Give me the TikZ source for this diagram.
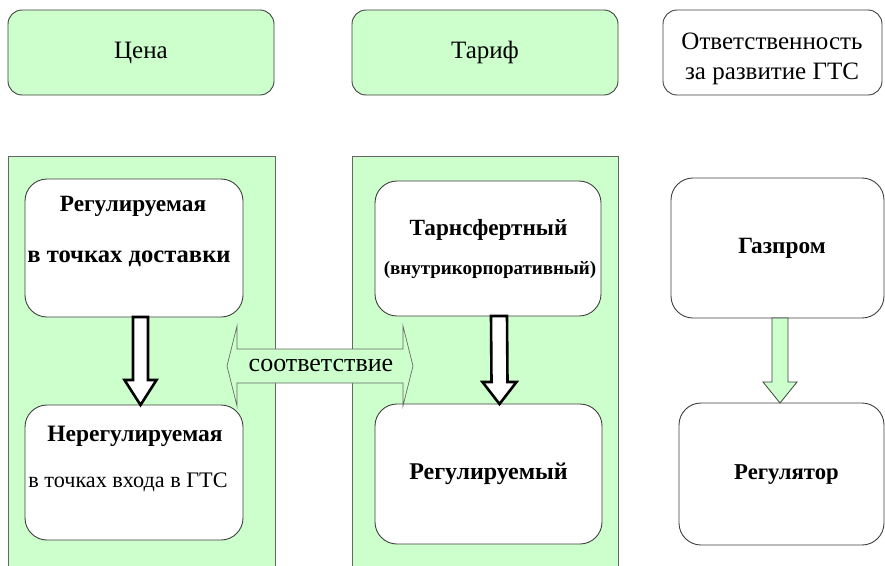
\documentclass[tikz,border=0pt]{standalone}
\usepackage{fontspec}
\setmainfont{Liberation Serif}
\usetikzlibrary{calc}
\definecolor{lgreen}{HTML}{CCFFCC}
\definecolor{edge}{HTML}{404040}
\begin{document}
\begin{tikzpicture}[x=1pt,y=-1pt,
  topbox/.style={draw=edge, line width=0.9pt, rounded corners=14pt, inner sep=0pt, outer sep=0pt},
  panel/.style={draw=edge!80, line width=0.7pt, fill=lgreen, inner sep=0pt, outer sep=0pt},
  inbox/.style={draw=edge, line width=0.9pt, fill=white, rounded corners=22pt, inner sep=0pt, outer sep=0pt},
  toptxt/.style={font=\fontsize{25}{30}\selectfont, align=center, inner sep=0pt},
  btxt/.style={font=\fontsize{#1}{26}\bfseries\selectfont, inner sep=0pt},
  rtxt/.style={font=\fontsize{#1}{25}\selectfont, inner sep=0pt},
  hollow/.style={draw=black, line width=2.6pt, fill=white, line join=miter},
  garrow/.style={draw=edge, line width=0.8pt, fill=lgreen, line join=miter}]
\useasboundingbox (0,0) rectangle (885,565);
% top row
\node[topbox, fill=lgreen, minimum width=266pt, minimum height=85pt] (cena) at (141,52.5) {};
\node[topbox, fill=lgreen, minimum width=266pt, minimum height=85pt] (tarif) at (485,52.5) {};
\node[topbox, fill=white, minimum width=219pt, minimum height=85pt] (otv) at (772.5,52.5) {};
\node[toptxt] (cenat) at (cena.center) {Цена};
\node[toptxt] (tariftt) at (tarif.center) {Тариф};
\node[toptxt] (otvt) at (772,59) {Ответственность\\за развитие ГТС};
% panels
\node[panel, minimum width=267pt, minimum height=412pt, anchor=north west] (pl) at (8,156) {};
\node[panel, minimum width=266pt, minimum height=412pt, anchor=north west] (pm) at (352,156) {};
% inner boxes
\node[inbox, minimum width=218pt, minimum height=138pt] (reg1) at (134,248) {};
\node[inbox, minimum width=218pt, minimum height=135pt] (nereg) at (134,472.5) {};
\node[inbox, minimum width=226pt, minimum height=135pt] (trans) at (488,248.5) {};
\node[inbox, minimum width=227pt, minimum height=140pt] (regy) at (488.5,474) {};
\node[inbox, minimum width=213pt, minimum height=140pt] (gaz) at (777.5,248) {};
\node[inbox, minimum width=205pt, minimum height=142pt] (regul) at (781.5,474) {};
% texts
\node[btxt=23.3] (t1a) at (133,206) {Регулируемая};
\node[btxt=24.6] (t1b) at (129,259) {в точках доставки};
\node[btxt=23.5] (t2a) at (135,436) {Нерегулируемая};
\node[rtxt=22.2] (t2b) at (128,482) {в точках входа в ГТС};
\node[btxt=23.2] (t3a) at (488.5,230) {Тарнсфертный};
\node[btxt=19] (t3b) at (490,270) {(внутрикорпоративный)};
\node[btxt=24] (t4) at (488.5,474) {Регулируемый};
\node[btxt=23.3] (t5) at (782,248) {Газпром};
\node[btxt=22.7] (t6) at (786.5,475) {Регулятор};
% hollow arrows
\coordinate (a1) at ($(reg1.south)+(6.5,0)$);
\coordinate (a1t) at ($(nereg.north)+(6.5,0)$);
\draw[hollow] ($(a1)+(-7.5,0)$) -- ($(a1t)+(-7.5,-25)$) -- ($(a1t)+(-16,-25)$) -- (a1t)
  -- ($(a1t)+(16,-25)$) -- ($(a1t)+(7.5,-25)$) -- ($(a1)+(7.5,0)$) -- cycle;
\coordinate (a2) at ($(trans.south)+(11,0)$);
\coordinate (a2t) at ($(regy.north)+(11,0)$);
\draw[hollow] ($(a2)+(-8,0)$) -- ($(a2t)+(-8,-22)$) -- ($(a2t)+(-17,-22)$) -- (a2t)
  -- ($(a2t)+(17,-22)$) -- ($(a2t)+(8,-22)$) -- ($(a2)+(8,0)$) -- cycle;
% green arrow
\coordinate (a3) at ($(gaz.south)+(2.5,0)$);
\coordinate (a3t) at ($(regul.north)+(-1.5,0)$);
\draw[garrow] ($(a3)+(-8,0)$) -- ($(a3t)+(-8,-21)$) -- ($(a3t)+(-17,-21)$) -- (a3t)
  -- ($(a3t)+(17,-21)$) -- ($(a3t)+(8,-21)$) -- ($(a3)+(8,0)$) -- cycle;
% double arrow
\coordinate (dl) at (227,366);
\coordinate (dr) at (413,366);
\draw[garrow, draw=edge!80, line width=0.7pt] (dl) -- ($(dl)+(10,-40)$) -- ($(dl)+(10,-17)$) -- ($(dr)+(-10,-17)$)
  -- ($(dr)+(-10,-40)$) -- (dr) -- ($(dr)+(-10,40)$) -- ($(dr)+(-10,17)$)
  -- ($(dl)+(10,17)$) -- ($(dl)+(10,40)$) -- cycle;
\node[rtxt=26] (corr) at (321,365) {соответствие};
\end{tikzpicture}
\end{document}
